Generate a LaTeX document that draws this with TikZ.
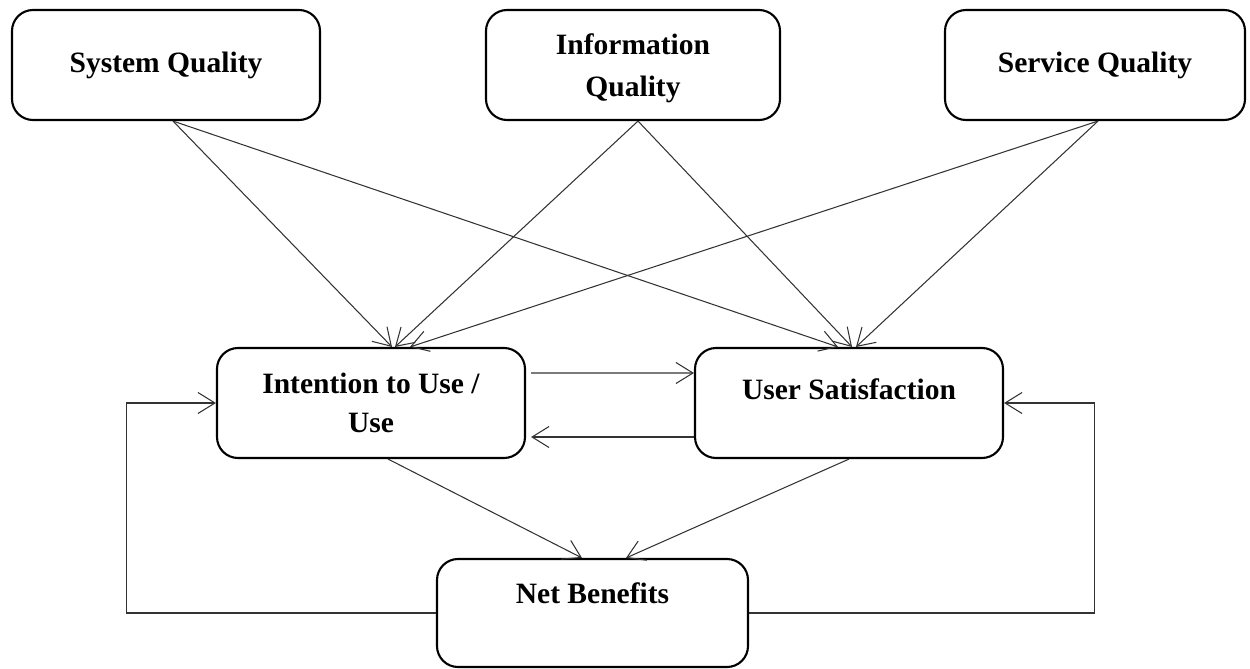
\documentclass[tikz,border=0pt]{standalone}
\usepackage{fontspec}
\setmainfont{Liberation Serif}
\usepackage{tikz}
\usetikzlibrary{arrows.meta}

\begin{document}
\begin{tikzpicture}[
  box/.style={draw=black, line width=1.2pt, rounded corners=0.42cm,
    minimum width=6.16cm, minimum height=2.2cm, align=center,
    font=\bfseries\fontsize{16.8}{22}\selectfont},
  link/.style={draw=black!80, line width=0.6pt,
    -{Straight Barb[length=3.4mm,width=4.2mm]}}
]
\useasboundingbox (0,0) rectangle (25,-13.36);

% top row
\node[box] (sq) at (3.32, -1.30) {System Quality};
\node[box, minimum width=5.88cm, font=\bfseries\fontsize{16.8}{24}\selectfont,
  text depth=0pt] (iq) at (12.66, -1.30) {Information\\Quality};
\node[box, minimum width=6.0cm] (svq) at (21.90, -1.30) {Service Quality};

% middle row
\node[box] (iu) at (7.42, -8.06) {Intention to Use /\\Use};
\node[box, text height=12pt, text depth=16.5pt] (us) at (16.98, -8.06) {User Satisfaction};

% bottom
\node[box, minimum width=6.22cm, minimum height=2.16cm, text height=12pt, text depth=23pt]
  (nb) at (11.85, -12.26) {Net Benefits};

\draw[link] ([xshift=0.14cm]sq.south) -- ([xshift=0.42cm]iu.north);
\draw[link] ([xshift=0.14cm]sq.south) -- ([xshift=-0.22cm]us.north);
\draw[link] ([xshift=0.10cm]iq.south) -- ([xshift=0.48cm]iu.north);
\draw[link] ([xshift=0.10cm]iq.south) -- ([xshift=0.06cm]us.north);
\draw[link] ([xshift=0.06cm]svq.south) -- ([xshift=0.78cm]iu.north);
\draw[link] ([xshift=0.06cm]svq.south) -- ([xshift=0.14cm]us.north);

\draw[link] ([shift={(0.1,0.6)}]iu.east) -- ([yshift=0.6cm]us.west);
\draw[link] ([yshift=-0.68cm]us.west) -- ([shift={(0.1,-0.68)}]iu.east);

\draw[link] ([xshift=0.34cm]iu.south) -- ([xshift=-0.21cm]nb.north);
\draw[link] (us.south) -- ([xshift=0.67cm]nb.north);

\draw[link] (nb.west) -| ([xshift=-1.78cm]iu.west) -- (iu.west);
\draw[link] (nb.east) -| ([xshift=1.8cm]us.east) -- (us.east);
\end{tikzpicture}
\end{document}
